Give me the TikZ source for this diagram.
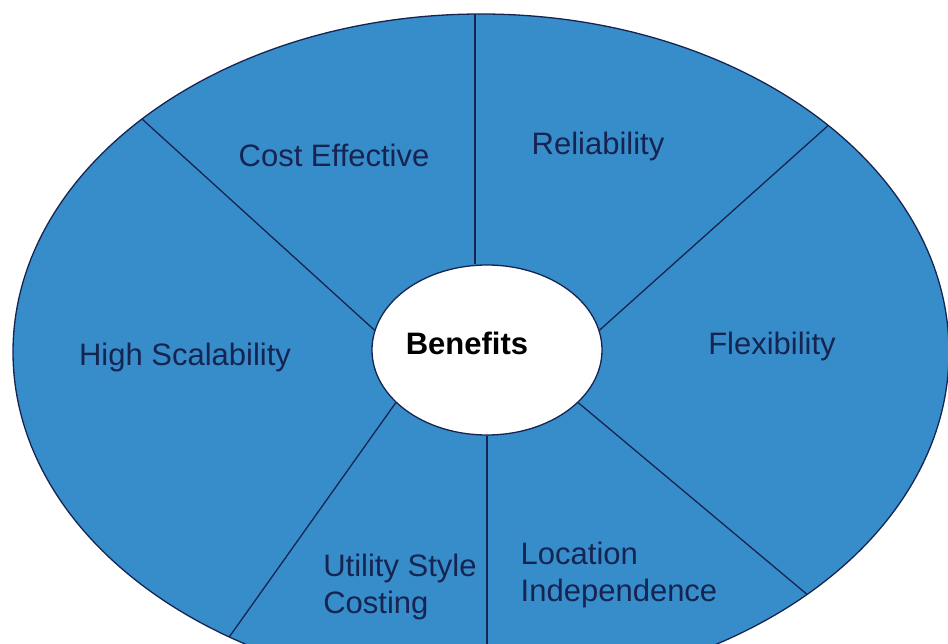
\documentclass[tikz,border=0pt]{standalone}
\usepackage{fontspec}
\setmainfont{Liberation Sans}
\usetikzlibrary{shapes.geometric}

\definecolor{petal}{RGB}{55,141,201}
\definecolor{ink}{RGB}{22,36,82}

\tikzset{
    benefit/.style={text=ink, font=\fontsize{31}{37}\selectfont, align=left, inner sep=0pt},
    divider/.style={draw=ink, line width=1.3pt},
}

\begin{document}
\begin{tikzpicture}[x=1pt, y=-1pt]
    \clip (0,0) rectangle (948,644);

    % Disc
    \filldraw[fill=petal, draw=ink, line width=1.3pt] (481,352) ellipse [x radius=468, y radius=338];

    % Nodes
    \node[ellipse, draw=ink, fill=white, line width=1.3pt, minimum width=230pt, minimum height=170pt] (hub) at (487,350) {};
    \node[font=\bfseries\fontsize{31}{37}\selectfont, inner sep=0pt] (benefits) at (467,343) {Benefits};

    \node[benefit] (cost) at (334,155) {Cost Effective};
    \node[benefit] (rel) at (598,146) {Reliability};
    \node[benefit] (scal) at (185,357) {High Scalability};
    \node[benefit] (flex) at (772,346) {Flexibility};
    \node[benefit] (util) at (400,587) {Utility Style\\Costing};
    \node[benefit] (loc) at (619,575) {Location\\Independence};

    % Rim points
    \coordinate (r1) at (475,0);
    \coordinate (r2) at (120,99);
    \coordinate (r3) at (860,97);
    \coordinate (r4) at (840,622);
    \coordinate (r5) at (487,660);
    \coordinate (r6) at (215,657);

    % Lines
    \begin{scope}
        \clip (481,352) ellipse [x radius=468, y radius=338];
        \draw[divider] (r1) -- (r1 |- hub.north);
        \draw[divider] (hub.170) -- (r2);
        \draw[divider] (hub.10) -- (r3);
        \draw[divider] (hub.-30) -- (r4);
        \draw[divider] (hub.south) -- (r5);
        \draw[divider] (hub.-150) -- (r6);
    \end{scope}
\end{tikzpicture}
\end{document}
